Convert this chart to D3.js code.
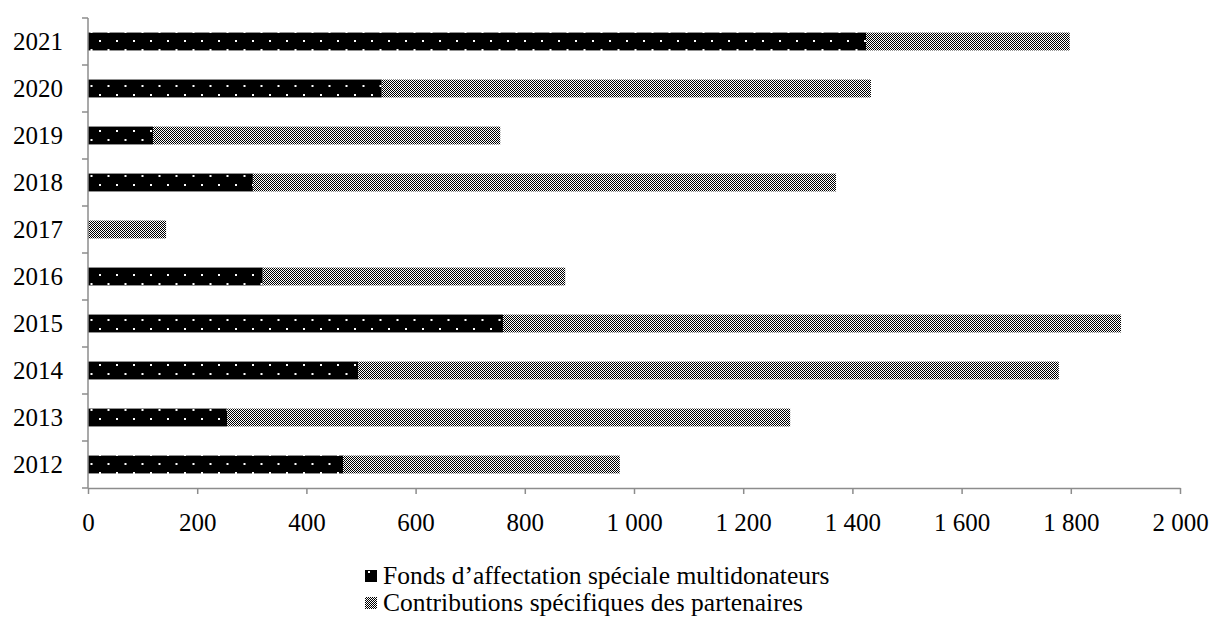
<!DOCTYPE html>
<html>
<head>
<meta charset="utf-8">
<script src="https://cdn.jsdelivr.net/npm/d3@7"></script>
<style>
  html, body { margin: 0; padding: 0; background: #fff; }
  svg text { font-family: "Liberation Serif", "DejaVu Serif", serif !important; }
</style>
</head>
<body>
<svg id="chart" width="1214" height="621"></svg>
<script>
// Years shown bottom (2012) to top (2021)
const years = ["2012", "2013", "2014", "2015", "2016", "2017", "2018", "2019", "2020", "2021"];
// Fonds d'affectation spéciale multidonateurs
const fondsMulti = [467, 255, 495, 760, 320, 0, 302, 119, 538, 1425];
// Contributions spécifiques des partenaires
const contribPart = [507, 1031, 1283, 1132, 554, 143, 1068, 636, 896, 373];
const seriesNames = ["Fonds d’affectation spéciale multidonateurs", "Contributions spécifiques des partenaires"];
const xTicks = [0, 200, 400, 600, 800, 1000, 1200, 1400, 1600, 1800, 2000];

const FONT = "'Liberation Serif', 'DejaVu Serif', serif";
const svg = d3.select("#chart");
const margin = { left: 88, right: 34, top: 18, bottom: 133 };
const W = 1214, H = 621;
const plotBottom = H - margin.bottom;

const x = d3.scaleLinear().domain([0, 2000]).range([margin.left, W - margin.right]);
const y = d3.scaleBand().domain(years.slice().reverse()).range([margin.top, plotBottom]).paddingInner(0.62).paddingOuter(0.31);

// Patterns: black with staggered white dots, and a fine checker
const defs = svg.append("defs");
const dots = defs.append("pattern").attr("id", "dots").attr("patternUnits", "userSpaceOnUse")
  .attr("width", 17).attr("height", 18).attr("x", 0).attr("y", 0);
dots.append("rect").attr("width", 17).attr("height", 18).attr("fill", "#000");
dots.append("rect").attr("x", 14).attr("y", 4).attr("width", 2).attr("height", 2).attr("fill", "#fff");
dots.append("rect").attr("x", 5.5).attr("y", 13).attr("width", 2).attr("height", 2).attr("fill", "#fff");

const chk = defs.append("pattern").attr("id", "checker").attr("patternUnits", "userSpaceOnUse")
  .attr("width", 2).attr("height", 2);
chk.append("rect").attr("width", 2).attr("height", 2).attr("fill", "#fff");
chk.append("rect").attr("width", 1).attr("height", 1).attr("fill", "#000").attr("shape-rendering", "crispEdges");
chk.append("rect").attr("x", 1).attr("y", 1).attr("width", 1).attr("height", 1).attr("fill", "#000").attr("shape-rendering", "crispEdges");

const legDots = defs.append("pattern").attr("id", "legdots").attr("patternUnits", "userSpaceOnUse")
  .attr("width", 12).attr("height", 12);
legDots.append("rect").attr("width", 12).attr("height", 12).attr("fill", "#000");
legDots.append("rect").attr("x", 3).attr("y", 7).attr("width", 2).attr("height", 2).attr("fill", "#fff");

// Stacked bars
const rows = years.map((yr, i) => ({ year: yr, a: fondsMulti[i], b: contribPart[i] }));
const g = svg.append("g");
rows.forEach(d => {
  if (d.a > 0) {
    g.append("rect")
      .attr("x", x(0)).attr("y", y(d.year))
      .attr("width", x(d.a) - x(0)).attr("height", y.bandwidth())
      .attr("fill", "url(#dots)");
  }
  g.append("rect")
    .attr("x", x(d.a)).attr("y", y(d.year))
    .attr("width", x(d.a + d.b) - x(d.a)).attr("height", y.bandwidth())
    .attr("fill", "url(#checker)");
});

const axisColor = "#8c8c8c";

// X axis
const xAxis = svg.append("g").attr("transform", `translate(0,${plotBottom})`)
  .call(d3.axisBottom(x).tickValues(xTicks).tickSize(6).tickSizeOuter(0)
    .tickFormat(v => d3.format(",")(v).replace(/,/g, " ")));
xAxis.attr("font-family", null).attr("font-size", null);
xAxis.select(".domain").attr("stroke", axisColor).attr("stroke-width", 1.5);
xAxis.selectAll(".tick line").attr("stroke", axisColor).attr("stroke-width", 1.5);
xAxis.selectAll("text").attr("fill", "#000").attr("y", 43).attr("dy", null)
  .style("font-family", FONT).style("font-size", "25px");

// Y axis: line with ticks at band boundaries
const yAxisG = svg.append("g");
yAxisG.append("line").attr("x1", x(0)).attr("x2", x(0)).attr("y1", margin.top).attr("y2", plotBottom)
  .attr("stroke", axisColor).attr("stroke-width", 1.5);
const bounds = d3.range(years.length + 1).map(i => margin.top + i * (plotBottom - margin.top) / years.length);
yAxisG.selectAll("line.tk").data(bounds).join("line").attr("class", "tk")
  .attr("x1", x(0) - 6).attr("x2", x(0)).attr("y1", d => d).attr("y2", d => d)
  .attr("stroke", axisColor).attr("stroke-width", 1.5);
yAxisG.selectAll("text").data(years).join("text")
  .attr("x", x(0) - 25).attr("y", d => y(d) + y.bandwidth() / 2)
  .attr("dy", "0.33em").attr("text-anchor", "end").attr("fill", "#000")
  .style("font-family", FONT).style("font-size", "25px")
  .text(d => d);

// Legend
const leg = svg.append("g").attr("transform", "translate(365,0)");
const legFills = ["url(#legdots)", "url(#checker)"];
seriesNames.forEach((name, i) => {
  const base = 584 + i * 27;
  leg.append("rect").attr("x", 0).attr("y", base - 14).attr("width", 12).attr("height", 12).attr("fill", legFills[i]);
  leg.append("text").attr("x", 18).attr("y", base).attr("fill", "#000")
    .style("font-family", FONT).style("font-size", "25.5px").text(name);
});
</script>
</body>
</html>
